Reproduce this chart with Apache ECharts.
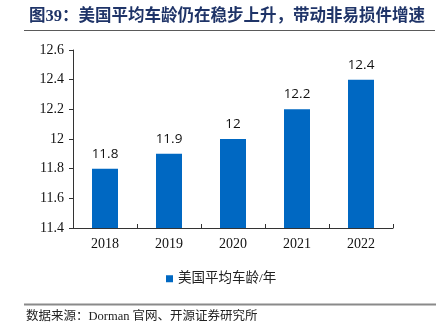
<!DOCTYPE html>
<html>
<head>
<meta charset="utf-8">
<script src="https://cdn.jsdelivr.net/npm/echarts@6/dist/echarts.min.js"></script>
<style>
  html, body { margin: 0; padding: 0; background: #fff; }
  #chart { width: 448px; height: 330px; }
</style>
</head>
<body>
<div id="chart"></div>
<script>
// Average vehicle age in the US, by year
const years = ['2018', '2019', '2020', '2021', '2022'];
const avgAge = [11.8, 11.9, 12, 12.2, 12.4];
const seriesName = '美国平均车龄/年';
const titleText = '图39：美国平均车龄仍在稳步上升，带动非易损件增速';
const sourceText = '数据来源：Dorman 官网、开源证券研究所';

const serif = '"Liberation Serif", "Times New Roman", "Noto Sans CJK SC", serif';
const cjk = '"Liberation Serif", "Noto Sans CJK SC", serif';

const chart = echarts.init(document.getElementById('chart'), null, { renderer: 'canvas' });

chart.setOption({
  backgroundColor: '#ffffff',
  animation: false,
  title: {
    text: titleText,
    left: 24,
    top: 3,
    textStyle: { fontFamily: cjk, fontSize: 16.5, fontWeight: 'bold', color: '#1f3468' }
  },
  graphic: [
    { type: 'line', shape: { x1: 24, y1: 30.5, x2: 435, y2: 30.5 }, style: { stroke: '#5a5a5a', lineWidth: 1.2 } },
    { type: 'line', shape: { x1: 24, y1: 304.5, x2: 436, y2: 304.5 }, style: { stroke: '#8a8a8a', lineWidth: 2 } },
    { type: 'text', left: 26, top: 310, style: { text: sourceText, font: '12.5px ' + cjk, fill: '#222' } }
  ],
  legend: {
    data: [seriesName],
    left: 161,
    top: 267,
    icon: 'rect',
    itemWidth: 7,
    itemHeight: 7,
    itemGap: 5,
    textStyle: { fontFamily: cjk, fontSize: 13.5, color: '#222' }
  },
  grid: { left: 73, right: 55, top: 50, bottom: 102, containLabel: false },
  xAxis: {
    type: 'category',
    data: years,
    axisLine: { lineStyle: { color: '#333', width: 1 } },
    axisTick: { show: true, inside: true, length: 4, lineStyle: { color: '#333' } },
    axisLabel: { fontFamily: serif, fontSize: 14, color: '#111', margin: 9 }
  },
  yAxis: {
    type: 'value',
    min: 11.4,
    max: 12.6,
    interval: 0.2,
    splitLine: { show: false },
    axisLine: { show: true, lineStyle: { color: '#333', width: 1 } },
    axisTick: { show: true, inside: false, length: 4, lineStyle: { color: '#333' } },
    axisLabel: {
      fontFamily: serif, fontSize: 14, color: '#111', margin: 9,
      formatter: v => String(Math.round(v * 10) / 10)
    }
  },
  series: [{
    name: seriesName,
    type: 'bar',
    data: avgAge,
    barWidth: 26,
    itemStyle: { color: '#0068c2' },
    label: {
      show: true,
      position: 'top',
      distance: 8,
      fontFamily: '"Open Sans", "Liberation Sans", sans-serif',
      fontSize: 13.5,
      color: '#111',
      formatter: p => String(p.value)
    }
  }]
});
</script>
</body>
</html>
